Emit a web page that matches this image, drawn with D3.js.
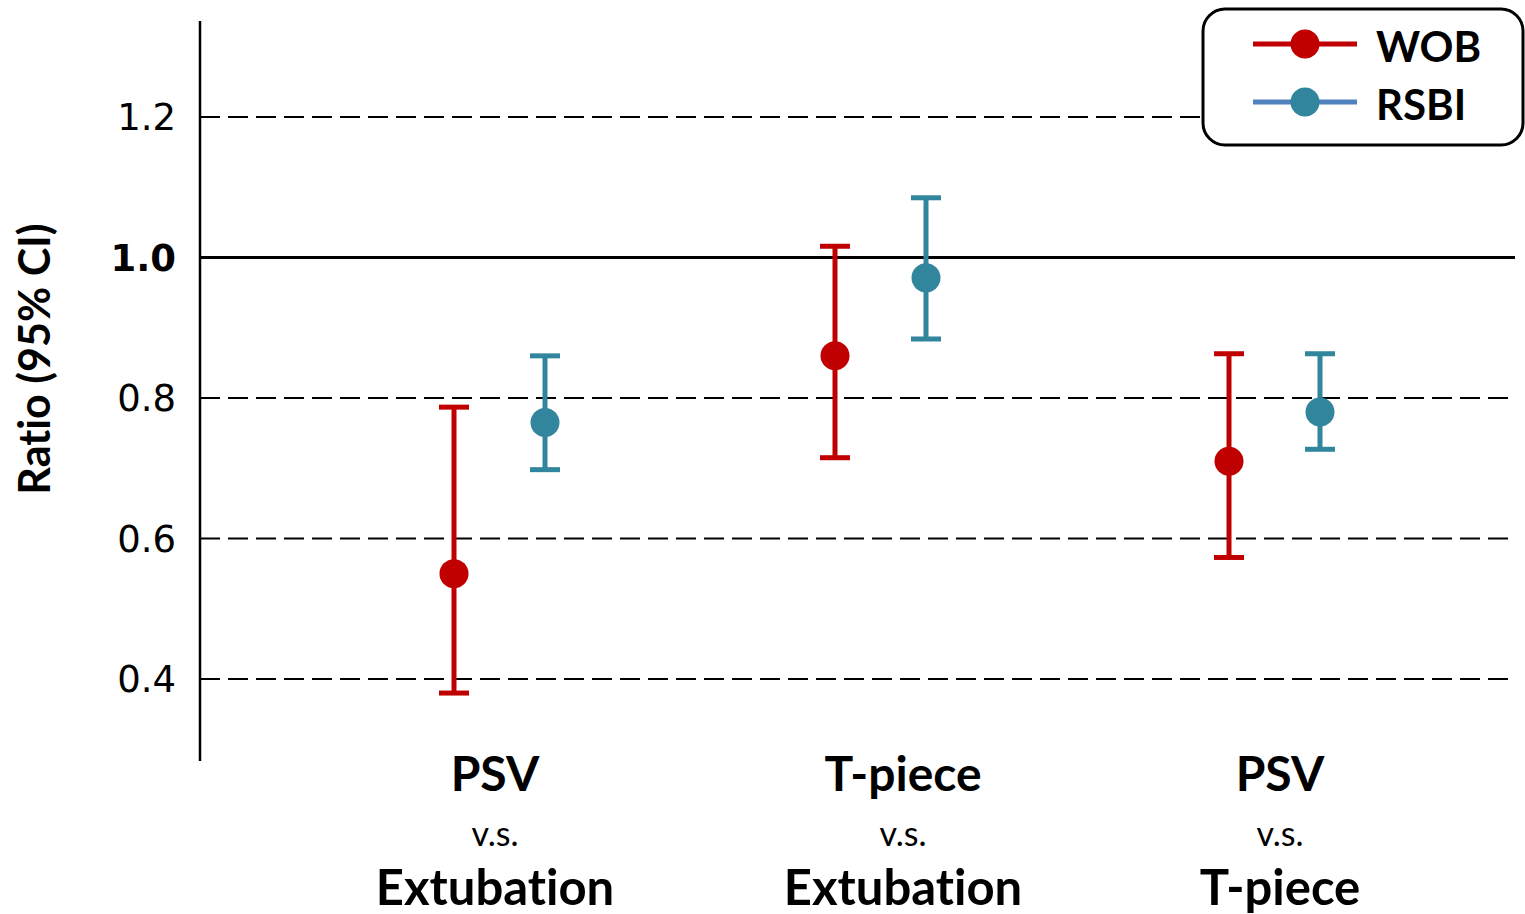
<!DOCTYPE html>
<html>
<head>
<meta charset="utf-8">
<script src="https://cdn.jsdelivr.net/npm/d3@7"></script>
<style>
  body { margin: 0; background: #fff; }
  svg { display: block; }
  text { font-variant-ligatures: none; }
</style>
</head>
<body>
<div id="chart"></div>
<script>
// comparisons (three lines of label each)
const categories = ["PSV v.s. Extubation", "T-piece v.s. Extubation", "PSV v.s. T-piece"];
const catTop = ["PSV", "T-piece", "PSV"];
const catBottom = ["Extubation", "Extubation", "T-piece"];

// ratio and 95% CI
const wobValue = [0.55, 0.86, 0.71];
const wobLow = [0.38, 0.715, 0.573];
const wobHigh = [0.787, 1.016, 0.863];

const rsbiValue = [0.765, 0.971, 0.78];
const rsbiLow = [0.698, 0.884, 0.727];
const rsbiHigh = [0.86, 1.085, 0.863];

const yTicks = [0.4, 0.6, 0.8, 1.0, 1.2];

const width = 1525, height = 914;

const svg = d3.select("#chart").append("svg")
  .attr("width", width)
  .attr("height", height);

const y = d3.scaleLinear()
  .domain([0.4, 1.2])
  .range([679, 117]);

// group centres and label centres along x
const x = d3.scaleOrdinal()
  .domain(categories)
  .range([500, 881, 1275]);

const xLabel = d3.scaleOrdinal()
  .domain(categories)
  .range([495, 903, 1280]);

const axisX = 200, plotRight = 1515;

// grid lines
svg.selectAll(".grid")
  .data(yTicks)
  .enter().append("line")
  .attr("x1", axisX)
  .attr("x2", plotRight)
  .attr("y1", d => y(d))
  .attr("y2", d => y(d))
  .attr("stroke", "#000")
  .attr("stroke-width", d => d === 1.0 ? 3 : 2)
  .attr("stroke-dasharray", d => d === 1.0 ? null : "20,8");

// y axis line
svg.append("line")
  .attr("x1", axisX).attr("x2", axisX)
  .attr("y1", 21).attr("y2", 761)
  .attr("stroke", "#000")
  .attr("stroke-width", 2.5);

// tick labels
svg.selectAll(".tick")
  .data(yTicks)
  .enter().append("text")
  .attr("x", 176)
  .attr("y", d => y(d))
  .attr("dy", "0.36em")
  .attr("text-anchor", "end")
  .style("font-family", "'DejaVu Sans', sans-serif")
  .style("font-size", "37px")
  .style("font-weight", d => d === 1.0 ? "bold" : "normal")
  .text(d => d.toFixed(1));

// y title
svg.append("text")
  .attr("transform", "translate(50,359) rotate(-90)")
  .attr("text-anchor", "middle")
  .style("font-family", "Lato, sans-serif")
  .style("font-weight", "bold")
  .style("font-size", "43px")
  .text("Ratio (95% CI)");

// series
const series = [
  { name: "WOB", color: "#C00000", line: "#C00000", offset: -46, value: wobValue, low: wobLow, high: wobHigh },
  { name: "RSBI", color: "#31859C", line: "#4F81BD", offset: 45, value: rsbiValue, low: rsbiLow, high: rsbiHigh }
];

series.forEach(s => {
  const g = svg.append("g");
  const pts = categories.map((c, i) => ({ cx: x(c) + s.offset, v: s.value[i], lo: s.low[i], hi: s.high[i] }));

  g.selectAll(".bar").data(pts).enter().append("line")
    .attr("x1", d => d.cx).attr("x2", d => d.cx)
    .attr("y1", d => y(d.hi)).attr("y2", d => y(d.lo))
    .attr("stroke", s.color).attr("stroke-width", 5);

  ["hi", "lo"].forEach(k => {
    g.selectAll(".cap-" + k).data(pts).enter().append("line")
      .attr("x1", d => d.cx - 15).attr("x2", d => d.cx + 15)
      .attr("y1", d => y(d[k])).attr("y2", d => y(d[k]))
      .attr("stroke", s.color).attr("stroke-width", 5);
  });

  g.selectAll("circle").data(pts).enter().append("circle")
    .attr("cx", d => d.cx)
    .attr("cy", d => y(d.v))
    .attr("r", 14.5)
    .attr("fill", s.color);
});

// category labels
const labels = svg.selectAll(".cat")
  .data(categories)
  .enter().append("g")
  .attr("transform", d => `translate(${xLabel(d)},0)`);

labels.append("text")
  .attr("y", 791)
  .attr("text-anchor", "middle")
  .style("font-family", "Lato, sans-serif")
  .style("font-weight", "bold")
  .style("font-size", "48px")
  .text((d, i) => catTop[i]);

labels.append("text")
  .attr("y", 846)
  .attr("text-anchor", "middle")
  .style("font-family", "Lato, sans-serif")
  .style("font-size", "34px")
  .text("v.s.");

labels.append("text")
  .attr("y", 905)
  .attr("text-anchor", "middle")
  .style("font-family", "Lato, sans-serif")
  .style("font-weight", "bold")
  .style("font-size", "49px")
  .text((d, i) => catBottom[i]);

// legend
const legend = svg.append("g");
legend.append("rect")
  .attr("x", 1203).attr("y", 9)
  .attr("width", 320).attr("height", 136)
  .attr("rx", 22)
  .attr("fill", "#fff")
  .attr("stroke", "#000")
  .attr("stroke-width", 3);

const item = legend.selectAll(".item")
  .data(series)
  .enter().append("g")
  .attr("transform", (d, i) => `translate(0,${44 + i * 58})`);

item.append("line")
  .attr("x1", 1253).attr("x2", 1357)
  .attr("stroke", d => d.line)
  .attr("stroke-width", 5);

item.append("circle")
  .attr("cx", 1305)
  .attr("r", 14.5)
  .attr("fill", d => d.color);

item.append("text")
  .attr("x", 1376)
  .attr("dy", "0.43em")
  .style("font-family", "Lato, sans-serif")
  .style("font-weight", "bold")
  .style("font-size", "42px")
  .text(d => d.name);
</script>
</body>
</html>
